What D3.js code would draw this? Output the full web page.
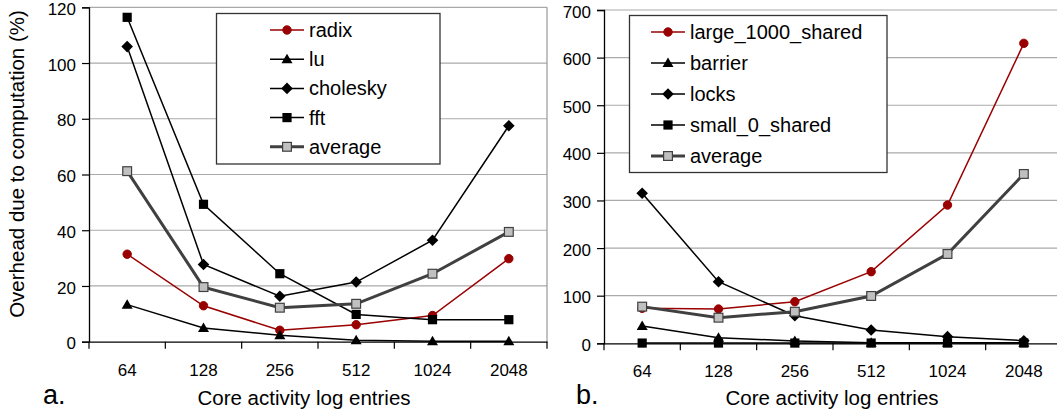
<!DOCTYPE html>
<html>
<head>
<meta charset="utf-8">
<script src="https://cdn.jsdelivr.net/npm/d3@7"></script>
<style>
  body { margin: 0; background: #fff; }
  svg { display: block; font-family: "Liberation Sans", Arial, sans-serif; }
</style>
</head>
<body>
<svg id="chart" width="1057" height="414"></svg>
<script>
// categories
const logEntries = ["64", "128", "256", "512", "1024", "2048"];

// panel a: overhead due to computation (%)
const radix    = [31.4, 12.9, 4.1, 6.1, 9.4, 29.8];
const lu       = [13.3, 4.9, 2.3, 0.5, 0.2, 0.2];
const cholesky = [105.9, 27.7, 16.3, 21.4, 36.4, 77.5];
const fft      = [116.4, 49.3, 24.4, 9.8, 7.9, 7.9];
const averageA = [61.2, 19.6, 12.2, 13.6, 24.4, 39.4];
const ticksA   = [0, 20, 40, 60, 80, 100, 120];

// panel b
const large1000Shared = [73.5, 72, 87.4, 150.4, 290.4, 630];
const barrier         = [36.3, 11.8, 4.9, 1, 1, 1];
const locks           = [315, 129.4, 58, 28, 14, 5.5];
const small0Shared    = [0.5, 0.5, 0.5, 0.5, 0.5, 0.5];
const averageB        = [77, 53.8, 66.4, 99.4, 187.6, 355.6];
const ticksB          = [0, 100, 200, 300, 400, 500, 600, 700];

const RED = "#990000", BLACK = "#000", DARK = "#404040";

const svg = d3.select("#chart");

function marker(g, shape, x, y) {
  if (shape === "circle") {
    g.append("circle").attr("cx", x).attr("cy", y).attr("r", 4.2)
      .attr("fill", RED).attr("stroke", RED);
  } else if (shape === "triangle") {
    g.append("path")
      .attr("d", `M${x},${y - 5.5}L${x + 5.5},${y + 4}L${x - 5.5},${y + 4}Z`)
      .attr("fill", BLACK);
  } else if (shape === "diamond") {
    g.append("path")
      .attr("d", `M${x},${y - 5.8}L${x + 5.8},${y}L${x},${y + 5.8}L${x - 5.8},${y}Z`)
      .attr("fill", BLACK);
  } else if (shape === "square") {
    g.append("rect").attr("x", x - 4.6).attr("y", y - 4.6)
      .attr("width", 9.2).attr("height", 9.2).attr("fill", BLACK);
  } else if (shape === "avg") {
    g.append("rect").attr("x", x - 4.4).attr("y", y - 4.4)
      .attr("width", 8.8).attr("height", 8.8)
      .attr("fill", "#c0c0c0").attr("stroke", DARK).attr("stroke-width", 1.2);
  }
}

function drawPanel(p) {
  const g = svg.append("g");

  const x = d3.scaleBand().domain(logEntries).range([p.left, p.right]);
  const y = d3.scaleLinear().domain([0, p.max]).range([p.bottom, p.top]);

  // gridlines
  g.selectAll(".grid")
    .data(p.ticks.filter(t => t > 0))
    .join("line")
    .attr("x1", p.left).attr("x2", p.right)
    .attr("y1", d => y(d)).attr("y2", d => y(d))
    .attr("stroke", "#aaa").attr("stroke-width", 1.2);

  // plot area border (right side)
  g.append("line")
    .attr("x1", p.right).attr("x2", p.right)
    .attr("y1", p.top).attr("y2", p.bottom)
    .attr("stroke", "#999").attr("stroke-width", 1.2);

  // y axis
  const yAxis = g.append("g")
    .attr("transform", `translate(${p.left},0)`)
    .call(d3.axisLeft(y).tickValues(p.ticks).tickSize(7).tickPadding(6));
  yAxis.select(".domain").attr("stroke-width", 1.3);
  yAxis.selectAll(".tick line").attr("stroke-width", 1.2);
  yAxis.selectAll("text")
    .attr("font-size", 17).attr("fill", "#000").attr("dy", "0.42em")
    .attr("font-family", "Liberation Sans, Arial, sans-serif");

  // x axis
  const xAxis = g.append("g")
    .attr("transform", `translate(0,${p.bottom})`)
    .call(d3.axisBottom(x).tickSize(0).tickPadding(22));
  xAxis.select(".domain").attr("stroke-width", 1.3);
  xAxis.selectAll("text")
    .attr("font-size", 17).attr("fill", "#000")
    .attr("font-family", "Liberation Sans, Arial, sans-serif");
  // boundary ticks between categories
  const bounds = logEntries.map(c => x(c)).concat([p.right]);
  g.selectAll(".xtick")
    .data(bounds)
    .join("line")
    .attr("x1", d => d).attr("x2", d => d)
    .attr("y1", p.bottom).attr("y2", p.bottom + 7)
    .attr("stroke", "#000").attr("stroke-width", 1.2);

  // series
  const line = d3.line()
    .x((d, i) => x(logEntries[i]) + x.bandwidth() / 2)
    .y(d => y(d));

  p.series.forEach(s => {
    g.append("path")
      .datum(s.values)
      .attr("d", line)
      .attr("fill", "none")
      .attr("stroke", s.color)
      .attr("stroke-width", s.width);
    s.values.forEach((v, i) => {
      marker(g, s.shape, x(logEntries[i]) + x.bandwidth() / 2, y(v));
    });
  });

  // legend
  const L = p.legend;
  g.append("rect")
    .attr("x", L.x0).attr("y", L.y0)
    .attr("width", L.x1 - L.x0).attr("height", L.y1 - L.y0)
    .attr("fill", "#fff").attr("stroke", "#333").attr("stroke-width", 1.3);
  p.series.forEach((s, i) => {
    const ly = L.row0 + i * L.step;
    g.append("line")
      .attr("x1", L.lx0).attr("x2", L.lx1)
      .attr("y1", ly).attr("y2", ly)
      .attr("stroke", s.color).attr("stroke-width", s.width);
    marker(g, s.shape, (L.lx0 + L.lx1) / 2, ly);
    g.append("text")
      .attr("x", L.tx).attr("y", ly + 7)
      .attr("font-size", 20)
      .text(s.name);
  });

  // axis title
  g.append("text")
    .attr("x", p.titleX).attr("y", 405)
    .attr("text-anchor", "middle")
    .attr("font-size", 20.5)
    .text("Core activity log entries");

  // panel letter
  g.append("text")
    .attr("x", p.letterX).attr("y", 404)
    .attr("font-size", 27)
    .text(p.letter);
}

drawPanel({
  left: 89, right: 547, top: 7.3, bottom: 341.7, max: 120, ticks: ticksA,
  series: [
    { name: "radix", values: radix, color: RED, width: 1.5, shape: "circle" },
    { name: "lu", values: lu, color: BLACK, width: 1.5, shape: "triangle" },
    { name: "cholesky", values: cholesky, color: BLACK, width: 1.5, shape: "diamond" },
    { name: "fft", values: fft, color: BLACK, width: 1.5, shape: "square" },
    { name: "average", values: averageA, color: DARK, width: 3, shape: "avg" }
  ],
  legend: { x0: 216.5, x1: 440, y0: 13.5, y1: 164, row0: 30, step: 29.2, lx0: 270, lx1: 304, tx: 309 },
  titleX: 304, letterX: 43, letter: "a."
});

drawPanel({
  left: 604, right: 1062, top: 10, bottom: 343.3, max: 700, ticks: ticksB,
  series: [
    { name: "large_1000_shared", values: large1000Shared, color: RED, width: 1.5, shape: "circle" },
    { name: "barrier", values: barrier, color: BLACK, width: 1.5, shape: "triangle" },
    { name: "locks", values: locks, color: BLACK, width: 1.5, shape: "diamond" },
    { name: "small_0_shared", values: small0Shared, color: BLACK, width: 1.5, shape: "square" },
    { name: "average", values: averageB, color: DARK, width: 3, shape: "avg" }
  ],
  legend: { x0: 629.5, x1: 887, y0: 15.5, y1: 172.5, row0: 32, step: 31, lx0: 651, lx1: 685, tx: 690 },
  titleX: 832, letterX: 576, letter: "b."
});

// y axis title (panel a)
svg.append("text")
  .attr("transform", "translate(24,164) rotate(-90)")
  .attr("text-anchor", "middle")
  .attr("font-size", 20.5)
  .text("Overhead due to computation (%)");
</script>
</body>
</html>
